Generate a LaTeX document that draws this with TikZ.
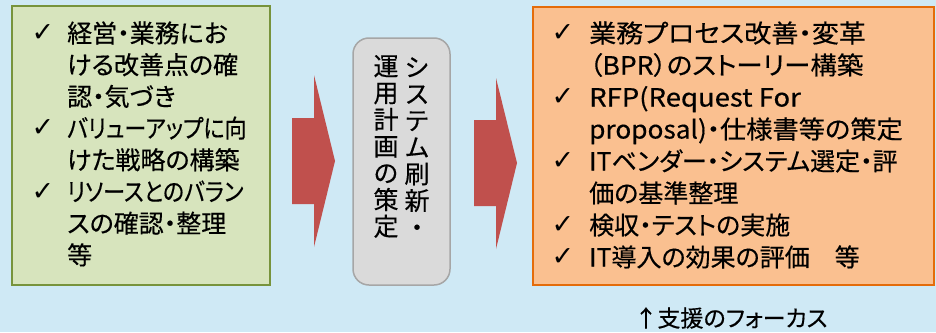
\documentclass[tikz,border=0pt]{standalone}
\usepackage{graphicx}
\usepackage{fontspec}
\setmainfont{Noto Sans CJK JP}[RawFeature=+palt, FakeBold=0.4]
\newfontfamily\vfont{Noto Sans CJK JP}[FakeBold=0.3]
\newfontfamily\symfont{DejaVu Sans}
\definecolor{bg}{HTML}{CFE9F5}
\definecolor{grfill}{HTML}{D7E4BD}
\definecolor{grline}{HTML}{77933C}
\definecolor{orfill}{HTML}{FAC090}
\definecolor{orline}{HTML}{E46C0A}
\definecolor{arr}{HTML}{C0504D}
\definecolor{gyfill}{HTML}{DADADA}
\definecolor{gyline}{HTML}{A6A6A6}
\tikzset{
  txtline/.style={anchor=west, inner sep=0pt, text height=22pt, text depth=3pt,
    font=\fontsize{25}{25}\selectfont},
  chk/.style={inner sep=0pt, font=\symfont\fontsize{27}{27}\selectfont},
  vchar/.style={inner sep=0pt, text height=22pt, text depth=3pt,
    font=\vfont\fontsize{25}{25}\selectfont},
  bigarrow/.style={fill=arr, draw=none},
  panel/.style={inner sep=0pt, line width=2pt},
}
\begin{document}
\begin{tikzpicture}[x=1pt,y=-1pt]
\useasboundingbox[fill=bg] (0,0) rectangle (936,332);
% boxes
\node[panel, draw=grline, fill=grfill, minimum width=258pt, minimum height=279pt] (cur) at (141,145.5) {};
\node[panel, draw=orline, fill=orfill, minimum width=401pt, minimum height=278pt] (sup) at (733.5,146) {};
\node[inner sep=0pt, draw=gyline, fill=gyfill, line width=1.5pt, rounded corners=16pt,
  minimum width=97pt, minimum height=247pt] (plan) at (401.5,161.5) {};
% arrows
\fill[bigarrow] (292,118) -- (314,118) -- (314,75) -- (335,161) -- (314,247) -- (314,204) -- (292,204) -- cycle;
\fill[bigarrow] (474,120) -- (496,120) -- (496,78) -- (517,163) -- (496,249) -- (496,206) -- (474,206) -- cycle;
% left text
\foreach \s/\t [count=\i from 0] in {1/経営・業務にお,1/ける改善点の確,1/認・気づき,0.88/バリューアップに向,1/けた戦略の構築,0.88/リソースとのバラン,1/スの確認・整理,1/等}
  \node[txtline] (L\i) at (67,33+31.7*\i) {\scalebox{\s}[1]{\t}};
\foreach \i in {0,3,5}
  \node[chk] (LC\i) at (43,33+31.7*\i) {✓};
% right text
\foreach \s/\t [count=\i from 0] in {1.08/業務プロセス改善・変革,1.06/（BPR）のストーリー構築,1.1/RFP(Request For,1.05/proposal)・仕様書等の策定,1/ITベンダー・システム選定・評,1/価の基準整理,1/検収・テストの実施,1/IT導入の効果の評価　等}
  \node[txtline] (R\i) at (589,33+32*\i) {\scalebox{\s}[1]{\t}};
\foreach \i in {0,2,4,6,7}
  \node[chk] (RC\i) at (563,33+32*\i) {✓};
% vertical text
\foreach \c [count=\i from 0] in {シ,ス,テ,ム,刷,新,・}
  \node[vchar] (VR\i) at (417,67+26.7*\i) {\c};
\foreach \c [count=\i from 0] in {運,用,計,画,の,策,定}
  \node[vchar] (VL\i) at (386,66+26.7*\i) {\c};
% caption
\node[inner sep=0pt, font=\fontsize{23}{23}\selectfont] (cap) at (731,318) {↑支援のフォーカス};
\end{tikzpicture}
\end{document}
